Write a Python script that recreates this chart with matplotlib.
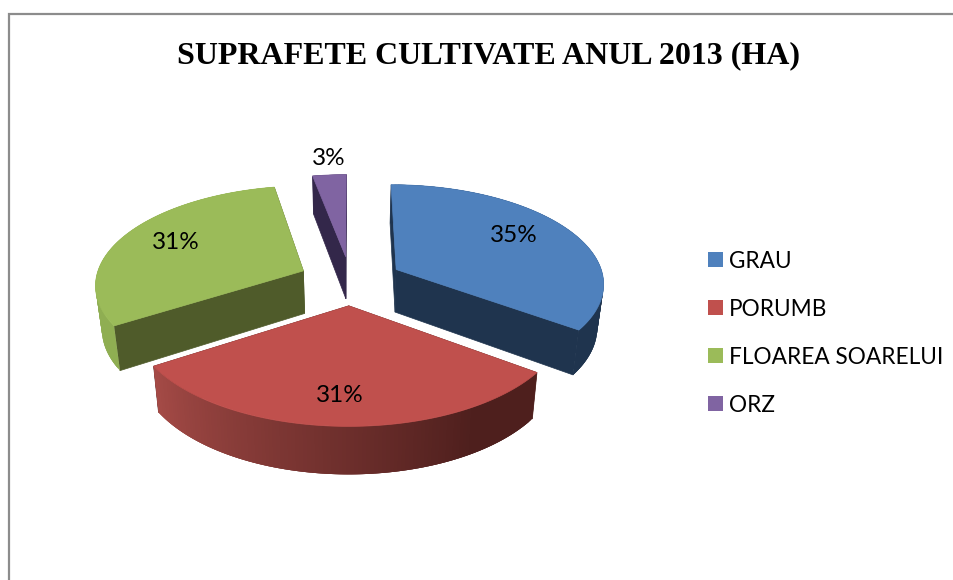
"""plot.py - exploded 3D pie of cultivated areas, projected by hand onto a pixel axes."""
import numpy as np
import matplotlib
matplotlib.use("Agg")
import matplotlib.pyplot as plt
from matplotlib.patches import Polygon, Rectangle

TITLE = "SUPRAFETE CULTIVATE ANUL 2013 (HA)"
CATEGORIES = ["GRAU", "PORUMB", "FLOAREA SOARELUI", "ORZ"]
SHARES = [35, 31, 31, 3]

TOP_COLORS = ["#4F81BD", "#C0504D", "#9BBB59", "#8064A2"]
WALL_COLORS = ["#1F344E", "#4E1F1D", "#4F5B2A", "#33274A"]
ARC_FROM = ["#1F344E", "#4E1F1D", "#8FAE52", "#33274A"]
ARC_TO = ["#1F344E", "#A64B47", "#8FAE52", "#33274A"]
DRAW_ORDER = [3, 2, 0, 1]
LABEL_POS = [(513.5, 242), (339.5, 402), (175.5, 249), (329, 165)]
LEGEND_Y = [252, 300, 348, 396]

CX, CY = 350.5, 280.5
RX, RY = 208, 98.2
PERSP = 0.127
EXPLODE = 0.25
DEPTH = 43


def project(u, v, lower=False):
    # u, v in the pie plane (v > 0 is towards the viewer)
    s = 1 / (1 - PERSP * v)
    x = RX * u * s
    y = CY + RY * v * s
    if lower:
        x = x * 0.975
        y = y + DEPTH + 4 * v
    return CX + x, y


def mix(c1, c2, t):
    a = np.array(matplotlib.colors.to_rgb(c1))
    b = np.array(matplotlib.colors.to_rgb(c2))
    return tuple(a + (b - a) * t)


def draw_slice(ax, i, start, end):
    mid = (start + end) / 2
    ou, ov = EXPLODE * np.sin(mid), -EXPLODE * np.cos(mid)
    phi = np.linspace(start, end, 120)
    u, v = ou + np.sin(phi), ov - np.cos(phi)
    top = np.column_stack(project(u, v))
    low = np.column_stack(project(u, v, lower=True))
    apex = project(ou, ov)
    apex_low = project(ou, ov, lower=True)

    # radial walls first, the outer rim over them, the top face last
    for k in (0, -1):
        ax.add_patch(Polygon([apex, top[k], low[k], apex_low], closed=True,
                             fc=WALL_COLORS[i], ec=WALL_COLORS[i], lw=0.5))
    n = len(phi) - 1
    for k in range(n):
        # front rim runs right to left; dark part stays flat up to 20 %
        c = mix(ARC_FROM[i], ARC_TO[i], min(1, max(0, (k / n - 0.2) / 0.8)))
        # strips overlap the next one so no seams show between them
        j = min(k + 3, n)
        ax.add_patch(Polygon([top[k], top[j], low[j], low[k]], closed=True,
                             fc=c, ec="none", lw=0))
    ax.add_patch(Polygon(np.vstack([[apex], top]), closed=True,
                         fc=TOP_COLORS[i], ec=TOP_COLORS[i], lw=0.5))


def main():
    plt.rcParams["font.family"] = ["Lato", "DejaVu Sans"]
    fig = plt.figure(figsize=(9.54, 5.8), dpi=100)
    ax = fig.add_axes([0, 0, 1, 1])
    ax.set_xlim(0, 954); ax.set_ylim(580, 0); ax.axis("off")

    ax.plot([9.5, 9.5, 954], [580, 13.5, 13.5], c="#8C8C8C", lw=1.6,
            solid_joinstyle="miter")

    ax.text(488.5, 55.5, TITLE, family="Liberation Serif", weight="bold",
            fontsize=23.05, ha="center", va="center", color="black")

    edges = np.radians(np.concatenate([[0], np.cumsum(SHARES)]) * 3.6)
    for i in DRAW_ORDER:
        draw_slice(ax, i, edges[i], edges[i + 1])

    for i, (x, y) in enumerate(LABEL_POS):
        ax.text(x, y, f"{SHARES[i]}%", fontsize=17.5, ha="center", va="baseline")

    for i, name in enumerate(CATEGORIES):
        ax.add_patch(Rectangle((708, LEGEND_Y[i]), 15, 15, fc=TOP_COLORS[i], ec="none"))
        ax.text(729, LEGEND_Y[i] + 15.5, name, fontsize=16.3, ha="left", va="baseline")

    fig.savefig("out.png", dpi=100)
    plt.close(fig)


if __name__ == "__main__":
    main()
